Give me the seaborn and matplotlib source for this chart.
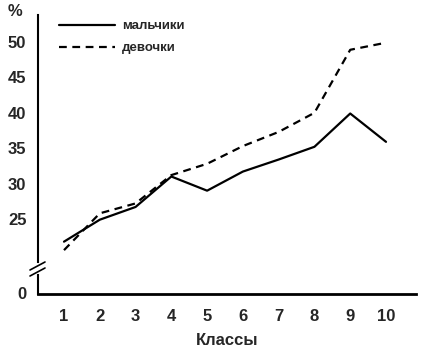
import matplotlib
matplotlib.use("Agg")
import matplotlib.pyplot as plt
import seaborn as sns
import pandas as pd
from matplotlib import font_manager

classes = [1, 2, 3, 4, 5, 6, 7, 8, 9, 10]
boys = [21.8, 24.9, 26.7, 31.0, 29.0, 31.7, 33.4, 35.2, 39.9, 35.9]
girls = [20.6, 25.8, 27.2, 31.2, 32.8, 35.3, 37.3, 40.0, 48.9, 49.9]
labels = ["мальчики", "девочки"]
yticks_top = [25, 30, 35, 40, 45, 50]

sns.set_theme(style="white")
names = {f.name for f in font_manager.fontManager.ttflist}
fam = "Liberation Sans Narrow" if "Liberation Sans Narrow" in names else "Liberation Sans"
plt.rcParams["font.family"] = [fam, "DejaVu Sans"]
plt.rcParams["font.weight"] = "bold"
plt.rcParams["axes.labelweight"] = "bold"

df = pd.DataFrame({
    "Классы": classes * 2,
    "value": boys + girls,
    "group": [labels[0]] * len(classes) + [labels[1]] * len(classes),
})

fig = plt.figure(figsize=(4.21, 3.52), dpi=100)
left = 37.5 / 421
width = (416 - 37.5) / 421
ax = fig.add_axes([left, 1 - 262 / 352, width, (262 - 15) / 352])
axb = fig.add_axes([left, 1 - 294 / 352, width, (294 - 275) / 352])

sns.lineplot(data=df, x="Классы", y="value", style="group", color="black",
             dashes={labels[0]: "", labels[1]: (3.5, 2.5)}, linewidth=1.6,
             ax=ax)

xl = (1 - 26.5 / 35.78, 10 + 30 / 35.78)
ax.set_xlim(*xl)
ax.set_ylim(25 - 43 / 7.08, 50 + 27 / 7.08)
axb.set_xlim(*xl)
axb.set_ylim(-0.1, 19 / 7.08 - 0.1)

for a in (ax, axb):
    for s in ("top", "right"):
        a.spines[s].set_visible(False)
    a.spines["left"].set_color("black")
    a.spines["left"].set_linewidth(1.5)
    a.set_facecolor("none")
    a.tick_params(axis="both", direction="out", length=5, width=1.3,
                  color="black", labelsize=12, pad=3)

ax.spines["bottom"].set_visible(False)
ax.set_xticks([])
ax.set_xlabel("")
ax.set_ylabel("")
ax.set_yticks(yticks_top)
ax.set_yticklabels([str(v) for v in yticks_top])

axb.spines["bottom"].set_color("black")
axb.spines["bottom"].set_linewidth(2)
axb.set_yticks([0])
axb.set_yticklabels(["0"])
axb.set_xticks(classes)
axb.set_xticklabels([str(c) for c in classes])
axb.tick_params(axis="x", pad=6)
axb.set_xlabel("Классы", fontsize=12, fontweight="bold", labelpad=6)

# break marks
for yy in (266, 272):
    fig.add_artist(plt.Line2D([30 / 421, 45 / 421], [1 - (yy + 4) / 352, 1 - (yy - 4) / 352],
                              color="black", lw=1.2))

fig.text(15 / 421, 1 - 12 / 352, "%", fontsize=12, ha="center", va="center")

leg = ax.legend(loc="upper left", bbox_to_anchor=(0.026, 1.028), frameon=False,
                fontsize=9.5, handlelength=4.2, labelspacing=0.75, handletextpad=0.55,
                title=None)
for h in leg.get_lines():
    h.set_linewidth(1.6)

fig.savefig("out.png", dpi=100, facecolor="white")
